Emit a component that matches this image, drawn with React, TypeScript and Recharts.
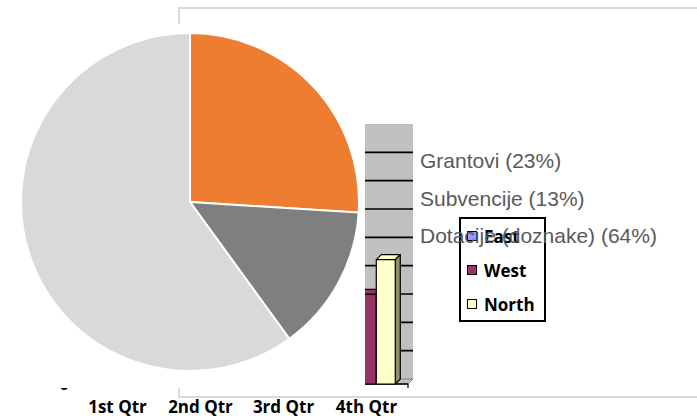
import React from "react";
import { BarChart, Bar, XAxis, YAxis, CartesianGrid, Legend, PieChart, Pie, Cell } from "recharts";

// bar chart (mostly hidden behind the pie area)
const quarters = ["1st Qtr", "2nd Qtr", "3rd Qtr", "4th Qtr"];
const seriesNames = ["East", "West", "North"];
const eastValues = [20.4, 27.4, 90, 20.4];
const westValues = [30.6, 38.6, 34.6, 31.6];
const northValues = [45.9, 46.9, 45, 43.9];
const valueTicks = [0, 10, 20, 30, 40, 50, 60, 70, 80, 90];

// pie chart
const fundNames = ["Grantovi", "Subvencije", "Dotacije (doznake)"];
const fundLabelPct = [23, 13, 64];
const fundShares = [26, 14, 60];
const fundColors = ["#ED7D31", "#7F7F7F", "#D9D9D9"];

const DEPTH = 5;
const FONT = "'Open Sans', sans-serif";

const barData = quarters.map((q, i) => ({
  quarter: q,
  East: eastValues[i],
  West: westValues[i],
  North: northValues[i],
}));

const pieData = fundNames.map((n, i) => ({
  name: `${n} (${fundLabelPct[i]}%)`,
  value: fundShares[i],
}));
const pieOrder = pieData.map((d) => d.name);

const Bar3D = (props: any) => {
  const { x, y, width, height, fill, side } = props;
  if (!width || height == null) return null;
  const fx = x - DEPTH;
  const fy = y + DEPTH;
  return (
    <g stroke="#000" strokeWidth={1.2} strokeLinejoin="round">
      <polygon points={`${fx},${fy} ${x},${y} ${x + width},${y} ${fx + width},${fy}`} fill={fill} />
      <polygon
        points={`${fx + width},${fy} ${x + width},${y} ${x + width},${y + height} ${fx + width},${fy + height}`}
        fill={side}
      />
      <rect x={fx} y={fy} width={width} height={height} fill={fill} />
    </g>
  );
};

// back wall lines; bottom one becomes the floor, top one is left to the axis line
const gridLine = (p: any) => {
  const { x1, x2, y1, index } = p;
  const hasBox = typeof p.y === "number" && typeof p.height === "number";
  const isBottom = hasBox ? Math.abs(y1 - (p.y + p.height)) < 1 : index === 0;
  const isTop = hasBox ? Math.abs(y1 - p.y) < 1 : index === valueTicks.length - 1;
  if (isTop) return <g key={p.key} />;
  if (isBottom) {
    return (
      <g key={p.key}>
        <polygon
          points={`${x1},${y1} ${x2},${y1} ${x2 - DEPTH},${y1 + DEPTH} ${x1 - DEPTH},${y1 + DEPTH}`}
          fill="#C0C0C0"
          stroke="#808080"
          strokeWidth={1}
        />
        <line x1={x1 - DEPTH} y1={y1 + DEPTH} x2={x2 - DEPTH} y2={y1 + DEPTH} stroke="#000" strokeWidth={1.5} />
        <line x1={x2 - DEPTH} y1={y1 + DEPTH} x2={x2 - DEPTH} y2={y1 + DEPTH + 4} stroke="#000" strokeWidth={1.2} />
      </g>
    );
  }
  return <line key={p.key} x1={x1} y1={y1} x2={x2} y2={y1} stroke="#000" strokeWidth={1.6} />;
};

const byOrder = (order: string[]) => (a: any, b: any) => order.indexOf(a.value) - order.indexOf(b.value);

const BarLegend = ({ payload }: any) => (
  <div
    style={{
      border: "2px solid #000",
      width: 87,
      height: 105,
      boxSizing: "border-box",
      fontFamily: FONT,
    }}
  >
    {[...(payload || [])].sort(byOrder(seriesNames)).map((item: any) => (
      <div key={item.value} style={{ display: "flex", alignItems: "center", height: 34, paddingLeft: 6 }}>
        <span
          style={{
            display: "inline-block",
            width: 8,
            height: 8,
            border: "1.5px solid #000",
            background: item.color,
            marginRight: 7,
          }}
        />
        <span style={{ fontWeight: 700, fontSize: 17, color: "#000", lineHeight: "normal" }}>{item.value}</span>
      </div>
    ))}
  </div>
);

const PieLegend = ({ payload }: any) => (
  <div style={{ fontFamily: "'Liberation Sans', Arial, sans-serif", fontSize: 21, color: "#595959" }}>
    {[...(payload || [])].sort(byOrder(pieOrder)).map((item: any) => (
      <div key={item.value} style={{ lineHeight: "37.5px", whiteSpace: "nowrap" }}>
        {item.value}
      </div>
    ))}
  </div>
);

export default function App() {
  return (
    <div
      style={{
        position: "absolute",
        left: 0,
        top: 0,
        width: 697,
        height: 418,
        overflow: "hidden",
        background: "#fff",
        fontFamily: FONT,
      }}
    >
      {/* outer chart frame */}
      <div
        style={{
          position: "absolute",
          left: 178,
          top: 7,
          width: 600,
          height: 391,
          border: "2.5px solid #D9D9D9",
          boxSizing: "border-box",
        }}
      />

      <div style={{ position: "absolute", left: 0, top: 0 }}>
        <BarChart
          width={697}
          height={418}
          data={barData}
          margin={{ top: 124, right: 284, bottom: 9, left: 0 }}
          barCategoryGap="16%"
          barGap={0}
        >
          <CartesianGrid fill="#C0C0C0" fillOpacity={1} vertical={false} horizontal={gridLine} />
          <XAxis
            dataKey="quarter"
            axisLine={false}
            tickLine={false}
            tickSize={0}
            tickMargin={22}
            height={30}
            interval={0}
            tick={{ fill: "#000", fontSize: 17, fontWeight: 700, fontFamily: FONT, dx: -DEPTH }}
          />
          <XAxis
            xAxisId="top"
            orientation="top"
            dataKey="quarter"
            height={0}
            tick={false}
            tickLine={false}
            axisLine={{ stroke: "#9A9A9A", strokeWidth: 2 }}
          />
          <YAxis
            domain={[0, 90]}
            ticks={valueTicks}
            width={81}
            axisLine={false}
            tickLine={false}
            tickSize={0}
            tickMargin={7}
            tick={{ fill: "#000", fontSize: 17, fontWeight: 700, fontFamily: FONT, dx: -DEPTH, dy: DEPTH }}
          />
          <YAxis
            yAxisId="r"
            orientation="right"
            domain={[0, 90]}
            width={0}
            tick={false}
            tickLine={false}
            axisLine={{ stroke: "#7F7F7F", strokeWidth: 2.5 }}
          />
          <Legend
            layout="horizontal"
            verticalAlign="middle"
            align="center"
            content={<BarLegend />}
            wrapperStyle={{ left: 459, top: 217, width: 87, bottom: "auto", right: "auto" }}
          />
          <Bar
            dataKey="East"
            name="East"
            fill="#9999FF"
            isAnimationActive={false}
            shape={(p: any) => <Bar3D {...p} side="#6B6BB3" />}
          />
          <Bar
            dataKey="West"
            name="West"
            fill="#993366"
            isAnimationActive={false}
            shape={(p: any) => <Bar3D {...p} side="#6B2447" />}
          />
          <Bar
            dataKey="North"
            name="North"
            fill="#FFFFCC"
            isAnimationActive={false}
            shape={(p: any) => <Bar3D {...p} side="#8F8F6E" />}
          />
        </BarChart>
      </div>

      {/* white plot area of the pie chart, covering most of the bar chart */}
      <div style={{ position: "absolute", left: 0, top: 24, width: 365, height: 364, background: "#fff" }} />

      <div style={{ position: "absolute", left: 0, top: 0 }}>
        <PieChart width={697} height={418} margin={{ top: 0, right: 0, bottom: 0, left: 0 }}>
          <Pie
            data={pieData}
            dataKey="value"
            nameKey="name"
            cx={190}
            cy={202}
            outerRadius={169}
            startAngle={90}
            endAngle={-270}
            stroke="#fff"
            strokeWidth={2}
            label={false}
            labelLine={false}
            isAnimationActive={false}
          >
            {pieData.map((entry, i) => (
              <Cell key={entry.name} fill={fundColors[i]} />
            ))}
          </Pie>
          <Legend
            layout="horizontal"
            verticalAlign="middle"
            align="center"
            content={<PieLegend />}
            wrapperStyle={{ left: 420, top: 142, width: 270, bottom: "auto", right: "auto" }}
          />
        </PieChart>
      </div>
    </div>
  );
}
